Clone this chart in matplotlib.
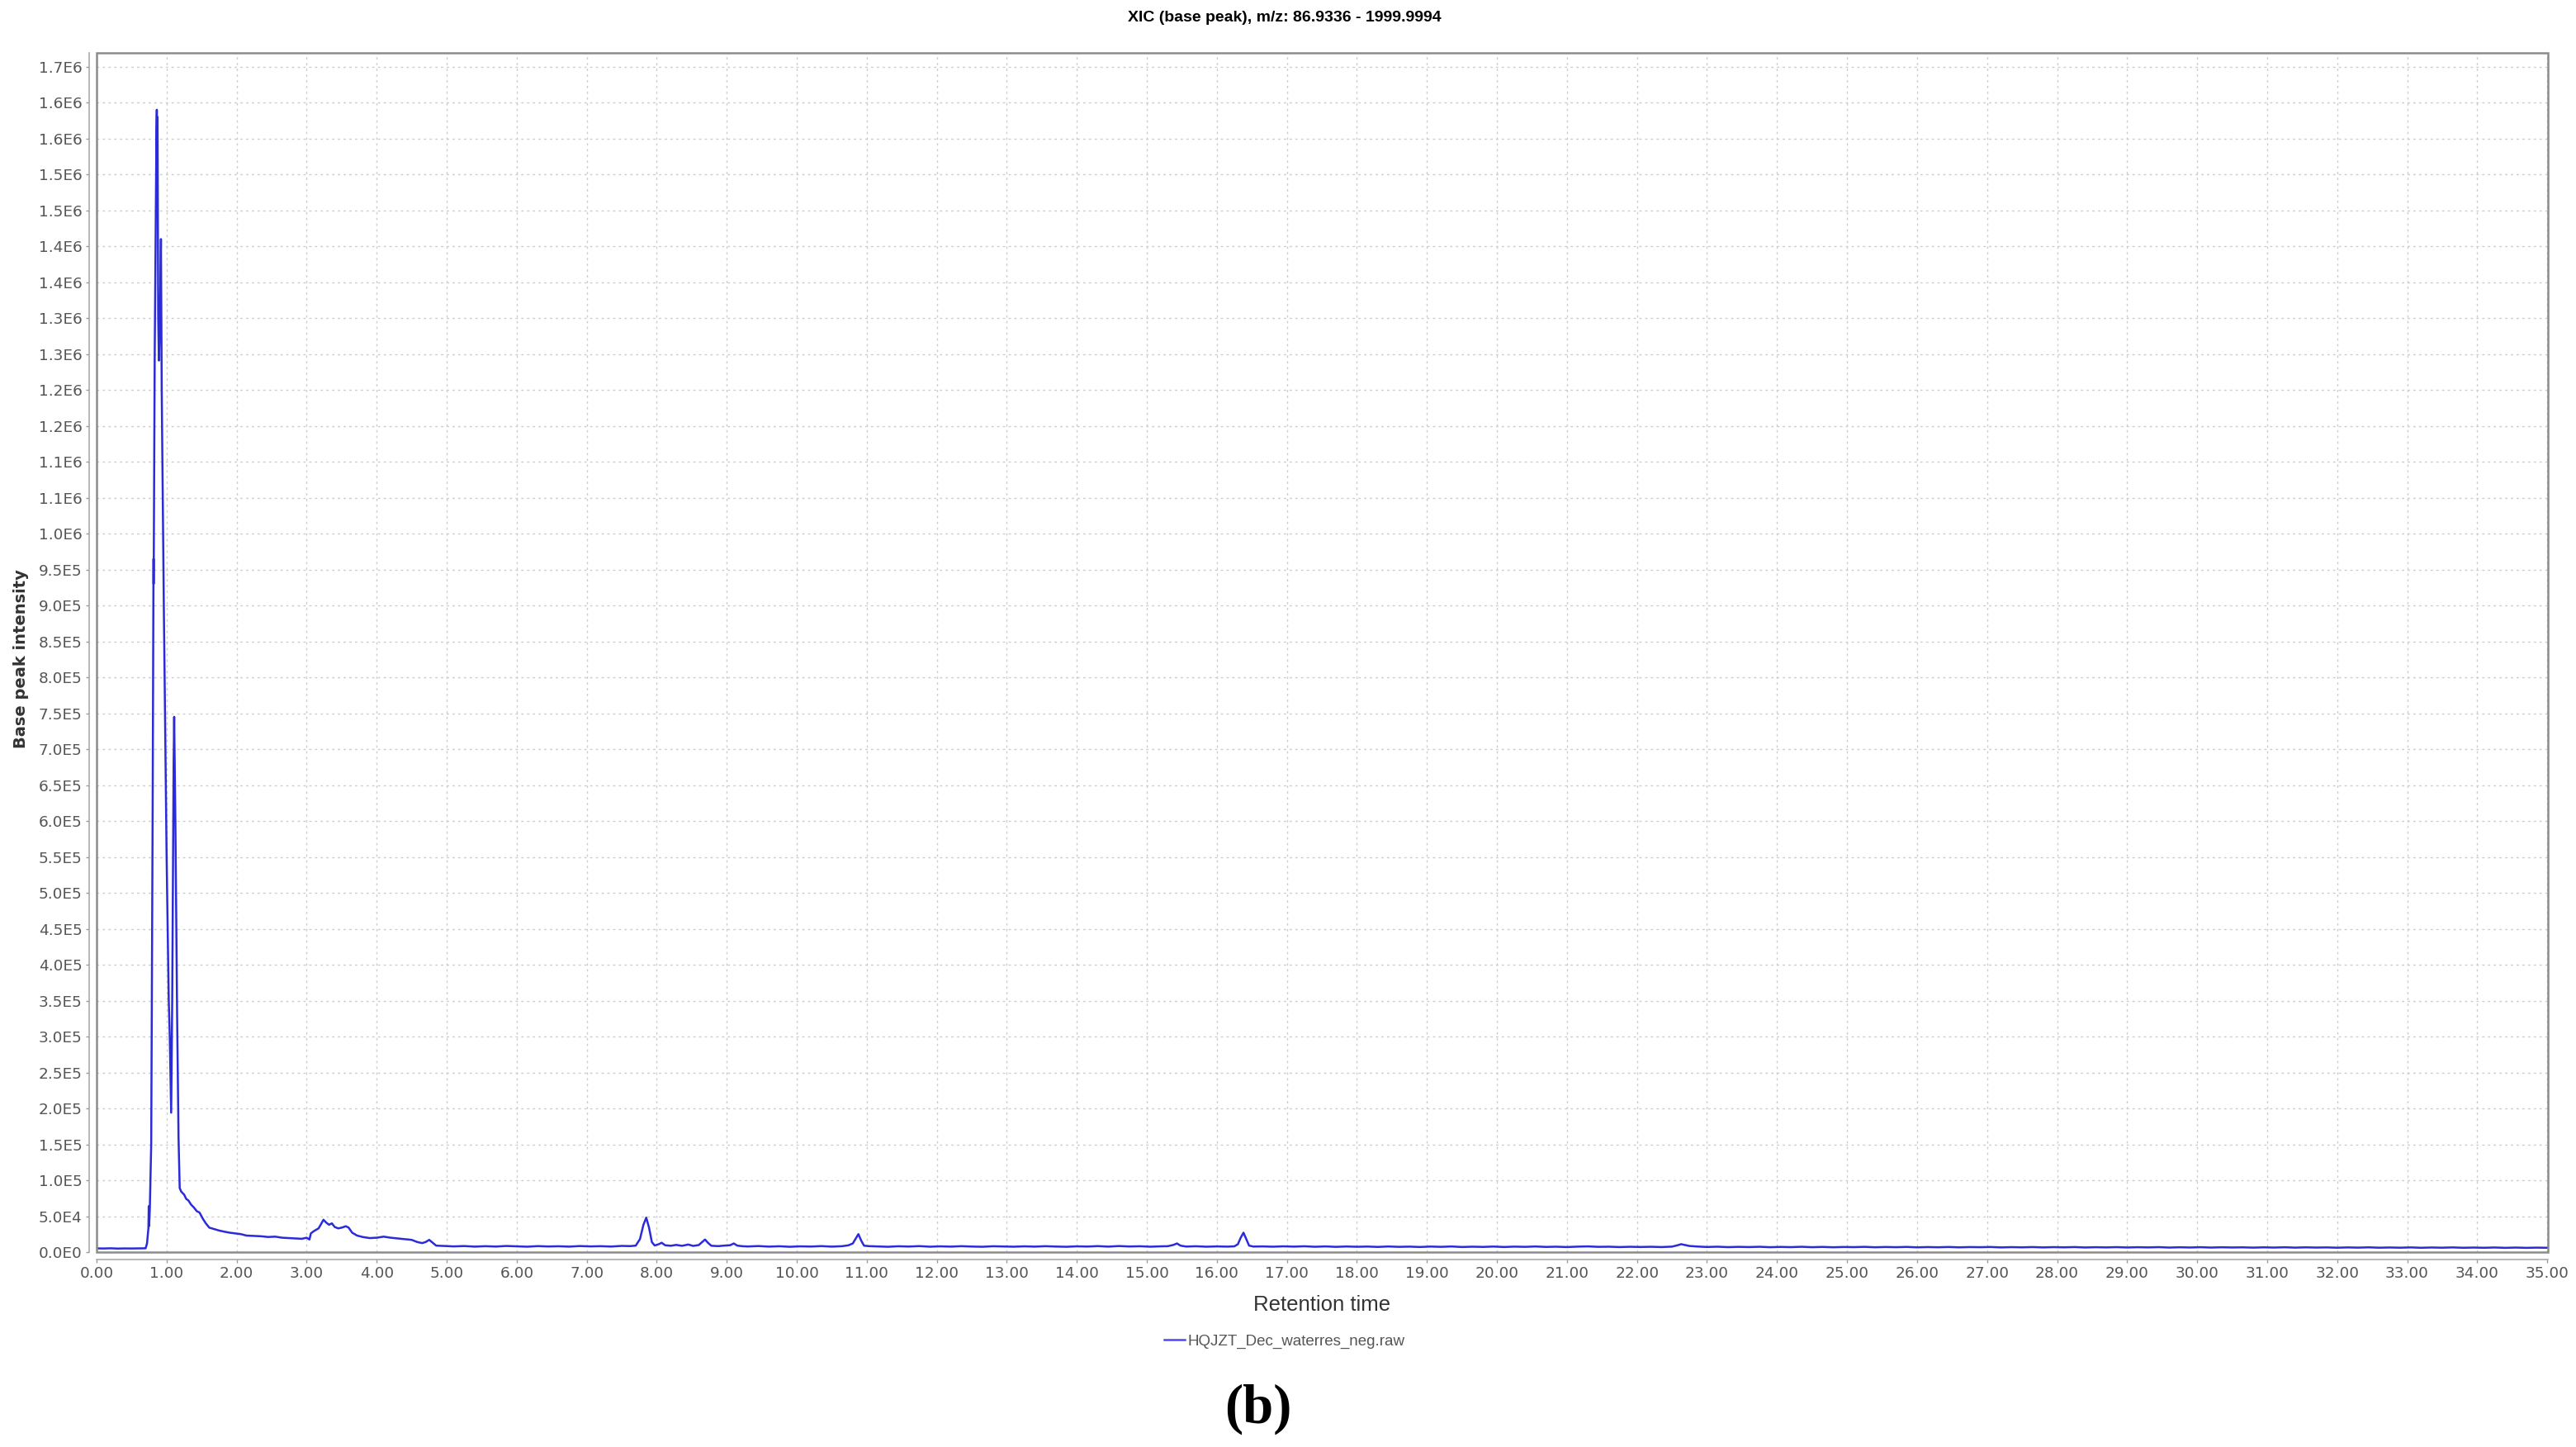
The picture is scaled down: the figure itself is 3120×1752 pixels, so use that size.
import numpy as np
import matplotlib
matplotlib.use("Agg")
import matplotlib.pyplot as plt
from matplotlib.ticker import FixedLocator, FuncFormatter
from matplotlib.lines import Line2D
from matplotlib.patches import Rectangle
from decimal import Decimal, ROUND_HALF_UP

# retention time (min) / base peak intensity
rt_front = [0.00, 0.10, 0.20, 0.30, 0.40, 0.50, 0.60, 0.70, 0.72, 0.74, 0.745, 0.75, 0.76,
            0.78, 0.80, 0.813, 0.815, 0.83, 0.855, 0.86, 0.865, 0.87, 0.88, 0.89, 0.905,
            0.919, 0.93, 0.96, 1.00, 1.03, 1.045, 1.065, 1.08, 1.10, 1.108, 1.125, 1.15,
            1.17, 1.187, 1.21, 1.25, 1.28, 1.31, 1.35, 1.39, 1.43, 1.47, 1.52, 1.56, 1.61,
            1.68, 1.75, 1.82, 1.90, 1.98, 2.06, 2.14, 2.25, 2.35, 2.45, 2.55, 2.65, 2.75,
            2.85, 2.93, 3.00, 3.04]
int_front = [5200, 5000, 5300, 4900, 5100, 5000, 5200, 5300, 12000, 33000, 64000, 36000, 60000,
             150000, 600000, 965000, 930000, 1250000, 1560000, 1590000, 1450000, 1580000, 1300000,
             1241000, 1300000, 1410000, 1200000, 900000, 550000, 353000, 300000, 194000, 350000,
             680000, 745000, 600000, 330000, 160000, 89000, 84000, 80000, 74000, 72000, 66000,
             62000, 57000, 55000, 46000, 40000, 34000, 32000, 30000, 28500, 27000, 26000, 25000,
             23000, 22500, 22000, 21000, 21500, 20000, 19500, 19000, 18500, 20000, 17500]

rt_hump = [3.06, 3.10, 3.17, 3.20, 3.24, 3.28, 3.32, 3.36, 3.40, 3.45, 3.50, 3.56, 3.60, 3.65,
           3.72, 3.80, 3.90, 4.00, 4.10, 4.20, 4.30, 4.40, 4.50, 4.58, 4.65, 4.70, 4.75, 4.80,
           4.85]
int_hump = [26000, 29000, 33000, 38000, 45000, 41000, 38000, 40000, 35000, 33000, 34000, 36000,
            34000, 27000, 23000, 21000, 19500, 20000, 21500, 20000, 19000, 18000, 17000, 14000,
            12500, 14000, 17000, 13000, 9000]

rt_mid = [4.95, 5.10, 5.25, 5.40, 5.55, 5.70, 5.85, 6.00, 6.15, 6.30, 6.45, 6.60, 6.75, 6.90,
          7.05, 7.20, 7.35, 7.50, 7.62, 7.70, 7.76, 7.81, 7.85, 7.89, 7.93, 7.97, 8.03, 8.07,
          8.12, 8.20, 8.28, 8.36, 8.45, 8.52, 8.60, 8.65, 8.69, 8.73, 8.78, 8.88, 8.96, 9.05,
          9.10, 9.15, 9.22, 9.30, 9.45, 9.60, 9.75, 9.90, 10.05, 10.20, 10.35, 10.50, 10.65,
          10.74, 10.80, 10.85, 10.88, 10.92, 10.96, 11.02, 11.15, 11.30, 11.45, 11.60, 11.75,
          11.90, 12.05, 12.20, 12.35, 12.50, 12.65, 12.80, 12.95, 13.10, 13.25, 13.40, 13.55,
          13.70, 13.85, 14.00, 14.15, 14.30, 14.45, 14.60, 14.75, 14.90, 15.05, 15.20, 15.30,
          15.38, 15.43, 15.48, 15.56, 15.70, 15.85, 16.00, 16.15, 16.25, 16.30, 16.34, 16.38,
          16.42, 16.46, 16.52]
int_mid = [8600, 7900, 8400, 7600, 8200, 7700, 8500, 8000, 7500, 8300, 7800, 8100, 7600, 8400,
           7900, 8200, 7700, 8600, 8300, 9000, 18000, 38000, 48000, 34000, 14000, 9200, 11000,
           13000, 9500, 8800, 10000, 8700, 10500, 8600, 9800, 14000, 17500, 13000, 8800, 8300,
           9000, 9600, 12000, 9000, 8200, 7800, 8400, 7600, 8100, 7400, 8000, 7700, 8300, 7600,
           8200, 9500, 12000, 20000, 25000, 16000, 9000, 8300, 7900, 7400, 8100, 7700, 8300,
           7500, 8000, 7600, 8200, 7700, 7400, 8100, 7800, 7500, 8000, 7600, 8200, 7700, 7400,
           8000, 7700, 8300, 7600, 8400, 7800, 8100, 7500, 8000, 8200, 10000, 12000, 9000, 7700,
           8100, 7500, 7900, 7600, 8000, 11000, 20000, 27000, 18000, 9000, 7700]

rt_tail = [16.65, 16.80, 16.95, 17.10, 17.25, 17.40, 17.55, 17.70, 17.85, 18.00, 18.15, 18.30,
           18.45, 18.60, 18.75, 18.90, 19.05, 19.20, 19.35, 19.50, 19.65, 19.80, 19.95, 20.10,
           20.25, 20.40, 20.55, 20.70, 20.85, 21.00, 21.15, 21.30, 21.45, 21.60, 21.75, 21.90,
           22.05, 22.20, 22.35, 22.50, 22.58, 22.63, 22.68, 22.75, 22.85, 23.00, 23.15, 23.30,
           23.45, 23.60, 23.75, 23.90, 24.05, 24.20, 24.35, 24.50, 24.65, 24.80, 24.95, 25.10,
           25.25, 25.40, 25.55, 25.70, 25.85, 26.00, 26.15, 26.30, 26.45, 26.60, 26.75, 26.90,
           27.05, 27.20, 27.35, 27.50, 27.65, 27.80, 27.95, 28.10, 28.25, 28.40, 28.55, 28.70,
           28.85, 29.00, 29.15, 29.30, 29.45, 29.60, 29.75, 29.90, 30.05, 30.20, 30.35, 30.50,
           30.65, 30.80, 30.95, 31.10, 31.25, 31.40, 31.55, 31.70, 31.85, 32.00, 32.15, 32.30,
           32.45, 32.60, 32.75, 32.90, 33.05, 33.20, 33.35, 33.50, 33.65, 33.80, 33.95, 34.10,
           34.25, 34.40, 34.55, 34.70, 34.85, 35.00]
int_tail = [7900, 7500, 8000, 7600, 8100, 7400, 7900, 7300, 7800, 7400, 7700, 7200, 7800, 7300,
            7600, 7100, 7700, 7300, 7800, 7100, 7500, 7200, 7700, 7100, 7600, 7300, 7800, 7200,
            7500, 7000, 7600, 7900, 7300, 7500, 7000, 7400, 7100, 7400, 7000, 7600, 9500, 11000,
            10000, 8500, 7800, 7100, 7500, 6900, 7300, 7000, 7400, 6800, 7200, 6900, 7400, 6800,
            7200, 6700, 7100, 6900, 7300, 6700, 7100, 6800, 7200, 6600, 7000, 6700, 7100, 6600,
            7000, 6800, 7100, 6500, 6900, 6600, 7000, 6500, 6900, 6600, 7000, 6400, 6800, 6500,
            6900, 6400, 6800, 6500, 6900, 6300, 6700, 6400, 6800, 6300, 6700, 6400, 6600, 6200,
            6600, 6300, 6700, 6200, 6600, 6300, 6500, 6100, 6500, 6200, 6600, 6100, 6400, 6100,
            6500, 6000, 6400, 6100, 6500, 6000, 6300, 6000, 6400, 5900, 6300, 5900, 6200, 6000]

title = "XIC (base peak), m/z: 86.9336 - 1999.9994"
series_name = "HQJZT_Dec_waterres_neg.raw"
x_ticks = list(range(0, 36))
y_ticks = [i * 50000 for i in range(0, 34)]

plt.rcParams['font.family'] = ['DejaVu Sans']

rt = np.array(rt_front + rt_hump + rt_mid + rt_tail)
inten = np.array(int_front + int_hump + int_mid + int_tail)


def sci(v, pos):
    v = float(v)
    if v == 0:
        return "0.0E0"
    e = int(np.floor(np.log10(v) + 1e-9))
    m = Decimal(str(round(v / 10 ** e, 6))).quantize(Decimal("0.1"), rounding=ROUND_HALF_UP)
    return f"{m}E{e}"


W, H = 3120, 1752
fig = plt.figure(figsize=(W / 100, H / 100), dpi=100)
left, right, top, bottom = 117, 3086, 64, 1516
ax = fig.add_axes([left / W, 1 - bottom / H, (right - left) / W, (bottom - top) / H])

ax.plot(rt, inten, color='#2b2bd9', lw=1.8)
ax.set_xlim(0, 35.01)
ax.set_ylim(0, 1669200)

ax.xaxis.set_major_locator(FixedLocator(x_ticks))
ax.xaxis.set_major_formatter(FuncFormatter(lambda v, p: f"{v:.2f}"))
ax.yaxis.set_major_locator(FixedLocator(y_ticks))
ax.yaxis.set_major_formatter(FuncFormatter(sci))

ax.grid(True, color='#cccccc', linestyle=(0, (2, 3)), linewidth=1.0)
ax.tick_params(axis='both', direction='out', length=3, width=1, color='#999999',
               labelcolor='#555555', labelsize=13.3, pad=3)

for s in ['top', 'right']:
    ax.spines[s].set_visible(False)
for s in ['left', 'bottom']:
    ax.spines[s].set_position(('outward', 6.5))
    ax.spines[s].set_color('#aaaaaa')
    ax.spines[s].set_linewidth(1.2)

# plot outline
ax.add_patch(Rectangle((0, 0), 1, 1, transform=ax.transAxes, fill=False,
                       edgecolor='#8c8c8c', linewidth=1.8, clip_on=False, zorder=5))

fig.text(778 / 1560, 1 - 22 / H, title, ha='center', va='center', fontsize=14,
         fontweight='bold', family=['Liberation Sans', 'DejaVu Sans'])
fig.text((left + right) / 2 / W, 1 - 1580 / H, "Retention time", ha='center', va='center',
         fontsize=18.5, color='#333333', family=['Liberation Sans', 'DejaVu Sans'])
fig.text(26 / W, 1 - 798 / H, "Base peak intensity", ha='center', va='center',
         rotation=90, fontsize=14, fontweight='bold', color='#333333')

handle = Line2D([], [], color='#4b4bf0', lw=1.8)
fig.legend([handle], [series_name], loc='center', bbox_to_anchor=(0.4987, 1 - 1624 / H),
           frameon=False, handlelength=1.3, handletextpad=0.2,
           prop={'family': ['Liberation Sans', 'DejaVu Sans'], 'size': 13.5},
           labelcolor='#555555')

fig.text(762 / 1560, 1 - 1706 / H, "(b)", ha='center', va='center', fontsize=48,
         fontweight='bold', family=['Liberation Serif', 'DejaVu Serif'])

fig.savefig("out.png", dpi=100, facecolor='white')
